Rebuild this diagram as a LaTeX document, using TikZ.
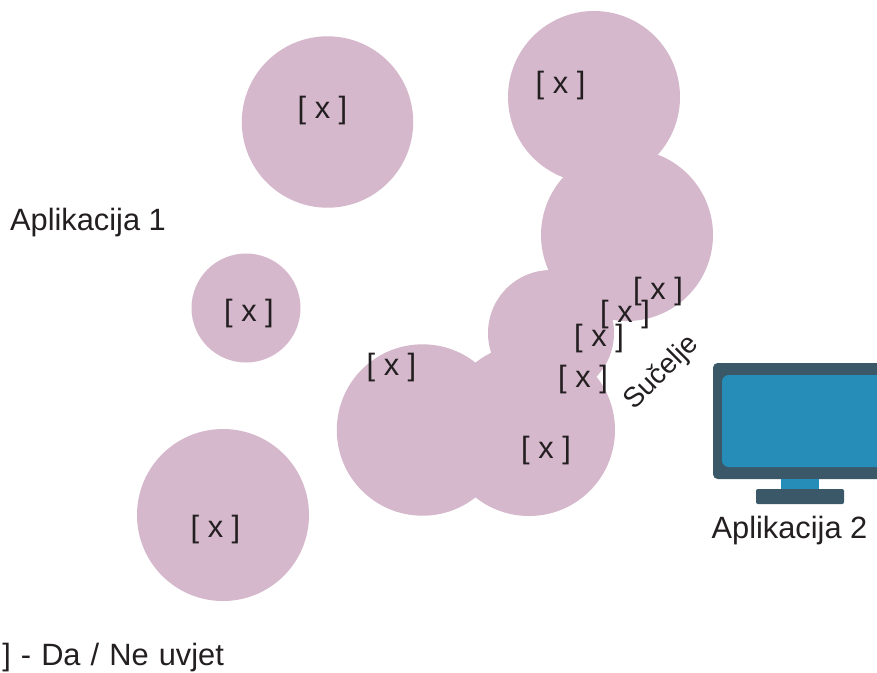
\documentclass[tikz,border=0pt]{standalone}
\usepackage{fontspec}
\setmainfont{Liberation Sans}
\newfontfamily\legfont[WordSpace=1.18]{Liberation Sans}
\definecolor{bubble}{HTML}{D5B8CC}
\definecolor{ink}{HTML}{231F20}
\definecolor{frameC}{HTML}{3A5868}
\definecolor{screenC}{HTML}{268CB8}
\tikzset{
  px/.style={x=0.75pt,y=-0.75pt},
  bub/.style={fill=bubble,draw=none},
  lab/.style={text=ink,font=\fontsize{23.1pt}{26pt}\selectfont,inner sep=0pt,anchor=center},
  xmark/.style={lab},
}
\begin{document}
\begin{tikzpicture}[px]
\useasboundingbox (0,0) rectangle (877,672);
\clip (0,0) rectangle (877,672);
\fill[white] (0,0) rectangle (877,672);
\fill[bub] (327.5,122) circle (85.7);
\fill[bub] (594,97) circle (86);
\fill[bub] (627,235) circle (86);
\fill[bub] (246,308) circle (54.5);
\fill[bub] (551,333) circle (63);
\fill[bub] (422.5,430) circle (85.7);
\fill[bub] (529,430) circle (86);
\fill[bub] (223,515) circle (86);
% monitor
\fill[frameC,rounded corners=3.5pt] (713,363) rectangle (900,479);
\fill[screenC,rounded corners=5pt] (722,375) rectangle (890,467);
\fill[screenC] (781,479) rectangle (819,489);
\fill[frameC,rounded corners=1.5pt] (756,489) rectangle (844,504);
% labels
\node[xmark] (x1) at (322.5,111) {[ x ]};
\node[xmark] (x2) at (560.5,86) {[ x ]};
\node[xmark] (x3) at (249,314) {[ x ]};
\node[xmark] (x4) at (391.5,367.5) {[ x ]};
\node[xmark] (x5) at (546,450.5) {[ x ]};
\node[xmark] (x6) at (215.5,529.5) {[ x ]};
\node[xmark] (x7) at (658,291.5) {[ x ]};
\node[xmark] (x8) at (625,314.5) {[ x ]};
\node[xmark] (x9) at (599,338.5) {[ x ]};
\node[xmark] (x10) at (583,379.5) {[ x ]};
\node[lab] (a1) at (88,222.5) {Aplikacija 1};
\node[lab] (a2) at (789.5,531) {Aplikacija 2};
\node[lab,rotate=45,font=\fontsize{21pt}{24pt}\selectfont] (su) at (662,373) {Sučelje};
\node[lab,anchor=west] (leg) at (2,658) {\legfont ] - Da / Ne uvjet};
\end{tikzpicture}
\end{document}
